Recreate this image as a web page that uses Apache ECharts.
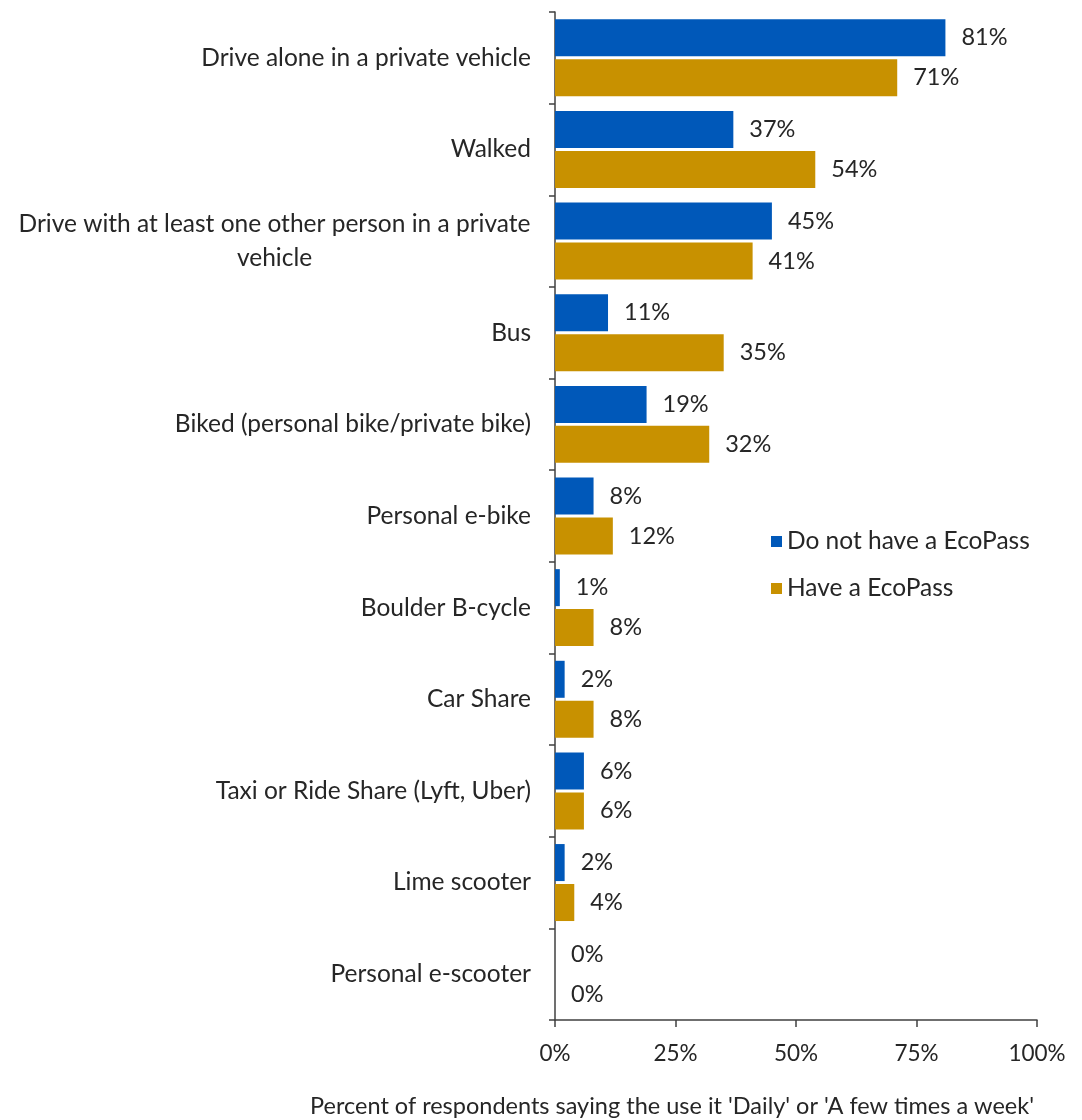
<!DOCTYPE html>
<html><head><meta charset="utf-8">
<script src="https://cdn.jsdelivr.net/npm/echarts@6/dist/echarts.min.js"></script>
<style>html,body{margin:0;padding:0;background:#fff}#c{width:1082px;height:1120px}</style>
</head><body><div id="c"></div>
<script>
const categories = [
  "Drive alone in a private vehicle",
  "Walked",
  "Drive with at least one other person in a private vehicle",
  "Bus",
  "Biked (personal bike/private bike)",
  "Personal e-bike",
  "Boulder B-cycle",
  "Car Share",
  "Taxi or Ride Share (Lyft, Uber)",
  "Lime scooter",
  "Personal e-scooter"
];
const noEcoPass = [81, 37, 45, 11, 19, 8, 1, 2, 6, 2, 0];
const haveEcoPass = [71, 54, 41, 35, 32, 12, 8, 8, 6, 4, 0];
const seriesNames = ["Do not have a EcoPass", "Have a EcoPass"];
const xTicks = [0, 25, 50, 75, 100];
const xTitle = "Percent of respondents saying the use it 'Daily' or 'A few times a week'";
const wrapLines = ["Drive with at least one other person in a private", "vehicle"];

const FONT = "Lato";
const CAT_SIZE = 24.5;
const ctx = document.createElement('canvas').getContext('2d');
ctx.font = CAT_SIZE + 'px ' + FONT;
const wrapWidth = Math.ceil(ctx.measureText(wrapLines[0]).width) + 1;

const chart = echarts.init(document.getElementById('c'));
const labelStyle = {show: true, position: 'right', distance: 16, formatter: p => p.value + '%', color: '#262626', fontFamily: FONT, fontSize: 23.5};
chart.setOption({
  animation: false,
  textStyle: {fontFamily: FONT},
  grid: {left: 555, right: 45, top: 12, bottom: 100, containLabel: false},
  legend: {
    orient: 'vertical', left: 766, top: 524, itemWidth: 11, itemHeight: 11, itemGap: 22,
    icon: 'rect', textStyle: {fontFamily: FONT, fontSize: 24.5, color: '#262626'},
    data: seriesNames
  },
  xAxis: {
    type: 'value', min: xTicks[0], max: xTicks[xTicks.length - 1], interval: 25,
    splitLine: {show: false},
    axisLine: {show: true, lineStyle: {color: '#404040', width: 1.5}},
    axisTick: {show: true, length: 7, lineStyle: {color: '#404040', width: 1.5}},
    axisLabel: {formatter: v => v + '%', fontFamily: FONT, fontSize: 22.5, color: '#262626', margin: 22}
  },
  yAxis: {
    type: 'category', data: categories, inverse: true,
    axisLine: {show: true, lineStyle: {color: '#404040', width: 1.5}},
    axisTick: {show: true, length: 6, lineStyle: {color: '#404040', width: 1.5}},
    axisLabel: {
      fontFamily: FONT, fontSize: CAT_SIZE, color: '#262626', margin: 24,
      formatter: v => v === categories[2]
        ? '{c|' + wrapLines[0] + '}\n{c|' + wrapLines[1] + '}'
        : v,
      rich: {c: {fontFamily: FONT, fontSize: CAT_SIZE, color: '#262626', width: wrapWidth, align: 'center', lineHeight: 34}}
    }
  },
  graphic: [{
    type: 'text', x: 672, y: 1106,
    style: {text: xTitle, font: '23.5px ' + FONT, fill: '#262626', align: 'center', verticalAlign: 'middle'}
  }],
  series: [
    {name: seriesNames[0], type: 'bar', data: noEcoPass, barCategoryGap: '16%', barGap: '8%',
     itemStyle: {color: '#0058B9'}, label: labelStyle},
    {name: seriesNames[1], type: 'bar', data: haveEcoPass,
     itemStyle: {color: '#C89100'}, label: labelStyle}
  ]
});
</script></body></html>
